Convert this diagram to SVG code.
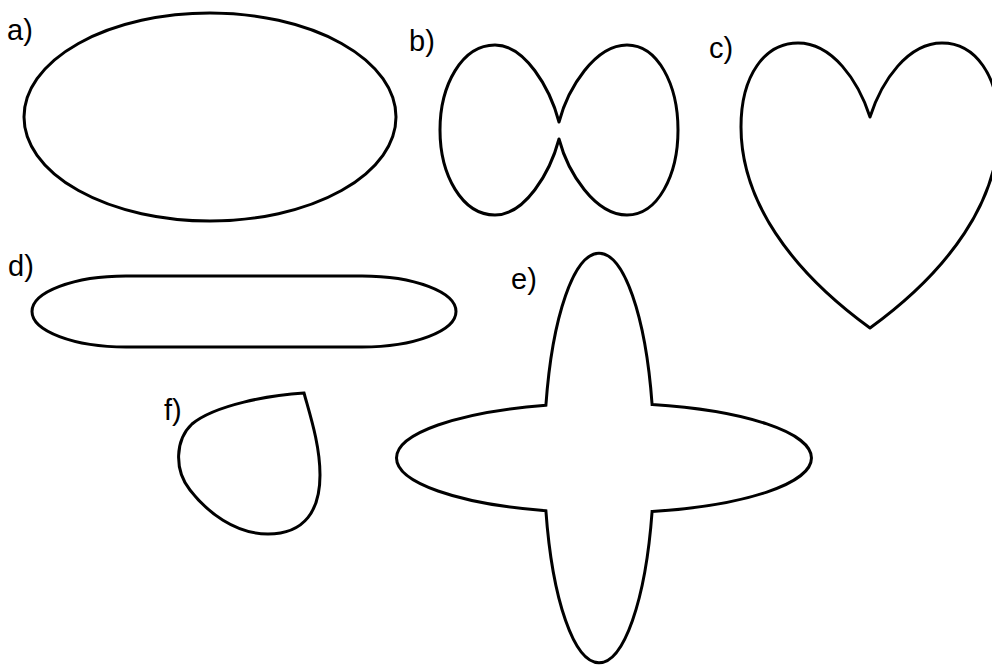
<svg xmlns="http://www.w3.org/2000/svg" width="992" height="665" viewBox="0 0 992 665">
<style>
.s{fill:none;stroke:#000;stroke-width:3;stroke-linejoin:round}
.t{font-family:"Liberation Sans",Arial,sans-serif;font-size:29px;fill:#000}
</style>
<rect width="992" height="665" fill="#fff"/>
<g id="a">
<ellipse class="s" cx="210" cy="117" rx="186" ry="104"/>
<text class="t" x="7" y="40">a)</text>
</g>
<g id="b">
<path class="s" d="M559,122 C550,88 525,45 495,45 C462,45 440,85 440,130 C440,175 462,215 495,215 C525,215 550,173 559,139 C568,173 595,215 627,215 C658,215 678,175 678,130 C678,85 658,45 627,45 C595,45 568,88 559,122 Z"/>
<text class="t" x="409" y="51">b)</text>
</g>
<g id="c">
<path class="s" d="M870,117 C858,80 832,43 798,43 C765,43 741,75 741,127 C741,200 790,270 870,328 C950,270 999,200 999,127 C999,75 975,43 942,43 C908,43 882,80 870,117 Z"/>
<text class="t" x="709" y="58">c)</text>
</g>
<g id="d">
<path class="s" d="M126,276 L362,276 A94,35.5 0 0 1 362,347 L126,347 A94,35.5 0 0 1 126,276 Z"/>
<text class="t" x="8" y="276">d)</text>
</g>
<g id="e">
<path class="s" style="stroke-linejoin:miter" d="M545.9,405.2 A55,205 0 0 1 652.1,404.5 A207.5,55 0 0 1 652.1,511.5 A55,205 0 0 1 545.9,510.8 A207.5,55 0 0 1 545.9,405.2 Z"/>
<text class="t" x="511" y="289">e)</text>
</g>
<g id="f">
<path class="s" style="stroke-linejoin:miter" d="M304,393 C270,395 215,405 192,424 C175,440 174,470 190,490 C207,512 235,534 268,534 C305,534 320,510 320,475 C320,445 310,415 304,393 Z"/>
<text class="t" x="164" y="420">f)</text>
</g>
<g id="connectors"/>
</svg>
